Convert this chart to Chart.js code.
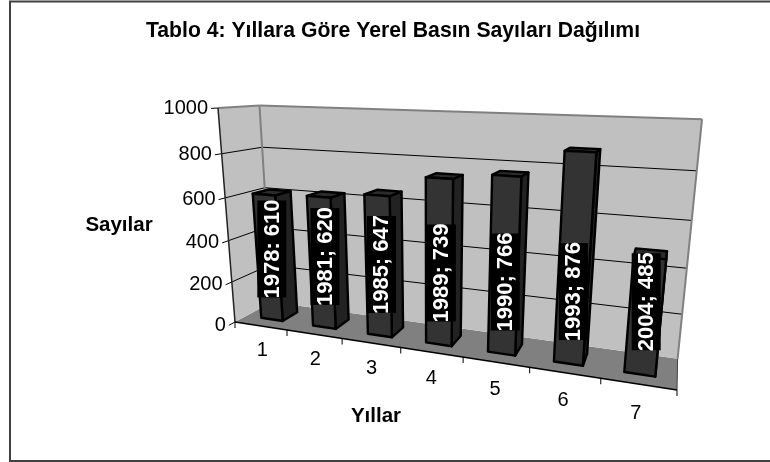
<!DOCTYPE html>
<html>
<head>
<meta charset="utf-8">
<style>
  html, body { margin: 0; padding: 0; background: #fff; }
  canvas { display: block; }
</style>
<script src="https://cdn.jsdelivr.net/npm/chart.js@4/dist/chart.umd.js"></script>
</head>
<body>
<canvas id="BasinChart" width="770" height="462"></canvas>
<script>
const categories = ["1", "2", "3", "4", "5", "6", "7"];
const counts = [610, 620, 647, 739, 766, 876, 485];
const barLabels = ["1978: 610", "1981; 620", "1985; 647", "1989; 739", "1990; 766", "1993; 876", "2004; 485"];
const yTicks = [0, 200, 400, 600, 800, 1000];

const chartTitle = "Tablo 4: Yıllara Göre Yerel Basın Sayıları Dağılımı";
const yTitle = "Sayılar";
const xTitle = "Yıllar";

const FONT = '"Liberation Sans", Arial, sans-serif';

// perspective box: u along the categories, v up the values, d into the page
const origin = { x: 235, y: 322 };
const cornerU = { x: 677, y: 390 };
const cornerV = { x: 218, y: 108 };
const cornerD = { x: 272, y: 302 };
const persU = -0.2;
const persV = -0.08;
const persD = 0.09;

const BAR_FRONT = 0.3;
const BAR_BACK = 0.72;

function project(u, v, d) {
  const w = 1 + persU * u + persV * v + persD * d;
  const axis = (c, p) => c * (1 + p);
  const x = origin.x
    + (axis(cornerU.x, persU) - origin.x) * u
    + (axis(cornerV.x, persV) - origin.x) * v
    + (axis(cornerD.x, persD) - origin.x) * d;
  const y = origin.y
    + (axis(cornerU.y, persU) - origin.y) * u
    + (axis(cornerV.y, persV) - origin.y) * v
    + (axis(cornerD.y, persD) - origin.y) * d;
  return { x: x / w, y: y / w };
}

function quad(ctx, points, fill, stroke, lineWidth) {
  ctx.beginPath();
  points.forEach((p, i) => (i ? ctx.lineTo(p.x, p.y) : ctx.moveTo(p.x, p.y)));
  ctx.closePath();
  if (fill) {
    ctx.fillStyle = fill;
    ctx.fill();
  }
  if (stroke) {
    ctx.strokeStyle = stroke;
    ctx.lineWidth = lineWidth;
    ctx.stroke();
  }
}

function line(ctx, a, b, color, lineWidth) {
  ctx.beginPath();
  ctx.moveTo(a.x, a.y);
  ctx.lineTo(b.x, b.y);
  ctx.strokeStyle = color;
  ctx.lineWidth = lineWidth;
  ctx.stroke();
}

function toPlane(chart, px, py) {
  const area = chart.chartArea;
  return {
    u: (px - area.left) / area.width,
    v: (area.bottom - py) / area.height,
  };
}

// bars drawn as boxes, positions still come from the bar elements
class Bar3DController extends Chart.BarController {
  draw() {
    const ctx = this.chart.ctx;
    const bars = this.getMeta().data;

    ctx.save();
    ctx.lineJoin = "round";

    bars.forEach((bar) => {
      const { x, y, base, width } = bar.getProps(["x", "y", "base", "width"], true);
      const left = toPlane(this.chart, x - width / 2, y);
      const right = toPlane(this.chart, x + width / 2, base);
      const u0 = left.u, u1 = right.u, top = left.v, bottom = right.v;

      quad(ctx, [project(u0, top, BAR_FRONT), project(u1, top, BAR_FRONT), project(u1, top, BAR_BACK), project(u0, top, BAR_BACK)], "#2b2b2b", "#000", 2.4);
      quad(ctx, [project(u1, bottom, BAR_FRONT), project(u1, top, BAR_FRONT), project(u1, top, BAR_BACK), project(u1, bottom, BAR_BACK)], "#222", "#000", 2.4);
      quad(ctx, [project(u0, bottom, BAR_FRONT), project(u1, bottom, BAR_FRONT), project(u1, top, BAR_FRONT), project(u0, top, BAR_FRONT)], "#333", "#000", 2.4);
    });

    ctx.restore();
  }
}
Bar3DController.id = "bar3d";
Bar3DController.defaults = Chart.BarController.defaults;
Bar3DController.overrides = Chart.BarController.overrides;
Chart.register(Bar3DController);

const wallsPlugin = {
  id: "walls",
  beforeDatasetsDraw(chart) {
    const ctx = chart.ctx;
    const yScale = chart.scales.y;
    const xScale = chart.scales.x;

    ctx.save();

    // frame around the whole chart
    ctx.strokeStyle = "#404040";
    ctx.lineWidth = 2;
    ctx.strokeRect(10, 1.5, 780, 459.5);

    // floor and the two walls
    quad(ctx, [project(0, 0, 0), project(1, 0, 0), project(1, 0, 1), project(0, 0, 1)], "#808080");
    quad(ctx, [project(0, 0, 0), project(0, 1, 0), project(0, 1, 1), project(0, 0, 1)], "#c0c0c0");
    quad(ctx, [project(0, 0, 1), project(1, 0, 1), project(1, 1, 1), project(0, 1, 1)], "#c0c0c0");

    yTicks.forEach((value) => {
      const v = toPlane(chart, 0, yScale.getPixelForValue(value)).v;
      if (value > 0 && value < yScale.max) {
        line(ctx, project(0, v, 0), project(0, v, 1), "#000", 1);
        line(ctx, project(0, v, 1), project(1, v, 1), "#000", 1);
      }
      line(ctx, project(0, v, -0.15), project(0, v, 0), "#000", 1);

      const end = project(0, v, -0.15);
      ctx.fillStyle = "#000";
      ctx.font = `20px ${FONT}`;
      ctx.textAlign = "right";
      ctx.textBaseline = "middle";
      ctx.fillText(String(value), end.x - 3, end.y);
    });

    // wall outlines
    line(ctx, project(0, 1, 0), project(0, 1, 1), "#808080", 2);
    line(ctx, project(0, 1, 1), project(1, 1, 1), "#808080", 2);
    line(ctx, project(0, 1, 1), project(0, 0, 1), "#808080", 2);
    line(ctx, project(1, 1, 1), project(1, 0, 1), "#808080", 2);
    line(ctx, project(1, 0, 1), project(1, 0, 0), "#404040", 1);

    // front axis lines
    line(ctx, project(0, 0, 0), project(0, 1, 0), "#222", 1.5);
    line(ctx, project(0, 0, 0), project(1, 0, 0), "#000", 1.5);

    const count = categories.length;
    for (let i = 0; i <= count; i++) {
      const a = project(i / count, 0, 0);
      line(ctx, a, { x: a.x, y: a.y + 6 }, "#000", 1);
    }

    categories.forEach((name, i) => {
      const u = toPlane(chart, xScale.getPixelForValue(i), 0).u;
      const p = project(u, -0.12, 0);
      ctx.fillStyle = "#000";
      ctx.font = `20px ${FONT}`;
      ctx.textAlign = "center";
      ctx.textBaseline = "middle";
      ctx.fillText(name, p.x, p.y + 1);
    });

    // axis titles
    ctx.font = `bold 20.5px ${FONT}`;
    ctx.fillStyle = "#000";
    ctx.textAlign = "center";
    ctx.textBaseline = "middle";
    ctx.fillText(yTitle, 119, 225);
    ctx.fillText(xTitle, 376, 416);

    ctx.restore();
  },
  afterDatasetsDraw(chart) {
    const ctx = chart.ctx;
    const bars = chart.getDatasetMeta(0).data;
    const dMid = (BAR_FRONT + BAR_BACK) / 2;

    ctx.save();
    bars.forEach((bar, i) => {
      const u = toPlane(chart, bar.x, 0).u;
      const cx = project(u, 0.3, 0.4).x;
      const cy = project(u, 0, dMid).y - 66;

      ctx.fillStyle = "#000";
      ctx.fillRect(cx - 14.5, cy - 48.5, 29, 97);

      ctx.translate(cx, cy);
      ctx.rotate(-Math.PI / 2);
      ctx.fillStyle = "#fff";
      ctx.font = `bold 22px ${FONT}`;
      ctx.textAlign = "center";
      ctx.textBaseline = "middle";
      ctx.fillText(barLabels[i], 0, 1);
      ctx.setTransform(1, 0, 0, 1, 0, 0);
    });
    ctx.restore();
  },
};

new Chart(document.querySelector("#BasinChart"), {
  type: "bar3d",
  data: {
    labels: categories,
    datasets: [
      {
        label: "Sayılar",
        data: counts,
        backgroundColor: "#333",
        categoryPercentage: 1,
        barPercentage: 0.42,
      },
    ],
  },
  options: {
    responsive: false,
    animation: false,
    layout: { padding: { top: 10, left: 16, right: 0, bottom: 10 } },
    plugins: {
      legend: { display: false },
      tooltip: { enabled: false },
      title: {
        display: true,
        text: chartTitle,
        color: "#000",
        font: { family: FONT, size: 21.2, weight: "bold" },
        padding: { top: 8, bottom: 10 },
      },
    },
    scales: {
      x: { type: "category", display: false, offset: true },
      y: {
        type: "linear",
        display: false,
        min: 0,
        max: 1000,
        ticks: { stepSize: 200 },
      },
    },
  },
  plugins: [wallsPlugin],
});
</script>
</body>
</html>
